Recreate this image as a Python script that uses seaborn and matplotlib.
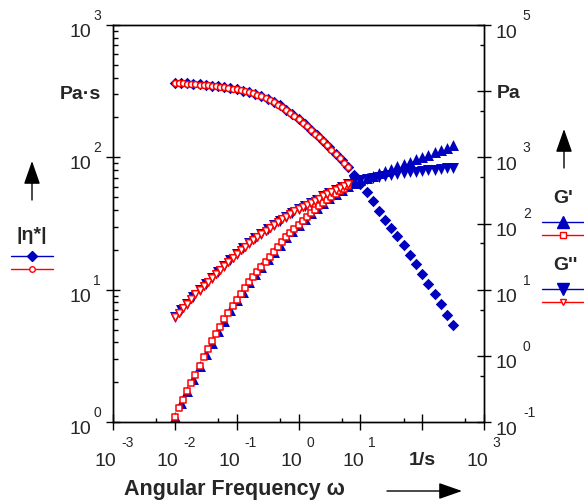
import matplotlib
matplotlib.use("Agg")
import matplotlib.pyplot as plt
import numpy as np
import seaborn as sns
from matplotlib.lines import Line2D
from matplotlib.patches import FancyArrowPatch
from matplotlib.ticker import LogLocator, NullFormatter

W, H = 584, 504
BLUE = "#0000C0"
RED = "#FF0000"

# angular frequency, log10 of 1/s
omega_blue_exp = [-2.0, -1.9, -1.8, -1.7, -1.6, -1.5, -1.4, -1.3, -1.2, -1.1,
                  -1.0, -0.9, -0.8, -0.7, -0.6, -0.5, -0.4, -0.3, -0.2, -0.1,
                  0.0, 0.1, 0.2, 0.3, 0.4, 0.5, 0.6, 0.7, 0.8, 0.9,
                  1.0, 1.1, 1.2, 1.3, 1.4, 1.5, 1.6, 1.7, 1.8, 1.9,
                  2.0, 2.1, 2.2, 2.3, 2.4, 2.5]
omega_red_exp = [-2.0, -1.933, -1.867, -1.8, -1.733, -1.667, -1.6, -1.533,
                 -1.467, -1.4, -1.333, -1.267, -1.2, -1.133, -1.067, -1.0,
                 -0.933, -0.867, -0.8, -0.733, -0.667, -0.6, -0.533, -0.467,
                 -0.4, -0.333, -0.267, -0.2, -0.133, -0.067, 0.0, 0.067,
                 0.133, 0.2, 0.267, 0.333, 0.4, 0.467, 0.533, 0.6, 0.667,
                 0.733, 0.8]

# |eta*| in Pa.s, log10 (left axis)
eta_blue_exp = [2.565, 2.562, 2.559, 2.556, 2.551, 2.545, 2.541, 2.536, 2.530,
                2.523, 2.515, 2.505, 2.494, 2.481, 2.465, 2.443, 2.419, 2.392,
                2.361, 2.326, 2.288, 2.249, 2.207, 2.165, 2.121, 2.075, 2.028,
                1.978, 1.925, 1.865, 1.800, 1.737, 1.668, 1.598, 1.530, 1.468,
                1.405, 1.335, 1.265, 1.192, 1.118, 1.042, 0.967, 0.890, 0.812,
                0.731]
eta_red_exp = [2.564, 2.562, 2.559, 2.557, 2.554, 2.552, 2.549, 2.547, 2.544,
               2.540, 2.537, 2.534, 2.529, 2.525, 2.520, 2.515, 2.507, 2.500,
               2.492, 2.484, 2.472, 2.460, 2.447, 2.434, 2.417, 2.398, 2.380,
               2.361, 2.337, 2.312, 2.288, 2.263, 2.235, 2.207, 2.180, 2.151,
               2.121, 2.090, 2.059, 2.027, 1.994, 1.959, 1.925]

# G' and G'' in Pa, log10 (right axis)
gp_blue_exp = [-0.92, -0.72, -0.53, -0.35, -0.16, 0.03, 0.20, 0.37, 0.53, 0.69,
               0.84, 0.97, 1.11, 1.23, 1.35, 1.46, 1.57, 1.68, 1.79, 1.89,
               1.98, 2.07, 2.155, 2.24, 2.31, 2.38, 2.445, 2.505, 2.565, 2.615,
               2.655, 2.69, 2.725, 2.76, 2.795, 2.83, 2.865, 2.90, 2.935, 2.97,
               3.005, 3.04, 3.075, 3.11, 3.145, 3.18]
gpp_blue_exp = [0.59, 0.69, 0.79, 0.895, 0.99, 1.085, 1.175, 1.27, 1.36, 1.45,
                1.54, 1.625, 1.70, 1.775, 1.845, 1.915, 1.98, 2.045, 2.105, 2.165,
                2.22, 2.265, 2.31, 2.36, 2.41, 2.455, 2.50, 2.545, 2.59, 2.635,
                2.655, 2.67, 2.685, 2.70, 2.715, 2.73, 2.745, 2.76, 2.775, 2.785,
                2.795, 2.805, 2.815, 2.825, 2.835, 2.84]
gp_red_exp = [-0.92, -0.79, -0.66, -0.53, -0.41, -0.29, -0.16, -0.02, 0.11,
              0.22, 0.33, 0.44, 0.55, 0.65, 0.75, 0.84, 0.93, 1.02, 1.11, 1.19,
              1.27, 1.35, 1.42, 1.50, 1.57, 1.64, 1.72, 1.79, 1.86, 1.92, 1.98,
              2.04, 2.10, 2.155, 2.21, 2.265, 2.31, 2.357, 2.40, 2.445, 2.485,
              2.525, 2.565]
gpp_red_exp = [0.58, 0.65, 0.72, 0.79, 0.86, 0.93, 0.99, 1.05, 1.115, 1.175,
               1.24, 1.30, 1.36, 1.42, 1.48, 1.54, 1.595, 1.65, 1.70, 1.75,
               1.80, 1.845, 1.89, 1.937, 1.98, 2.025, 2.065, 2.105, 2.145, 2.185,
               2.22, 2.25, 2.28, 2.31, 2.343, 2.377, 2.41, 2.44, 2.47, 2.50,
               2.53, 2.56, 2.59]

x_exps = [-3, -2, -1, 0, 1, 2, 3]
left_exps = [0, 1, 2, 3]
right_exps = [-1, 0, 1, 2, 3, 4, 5]


def fig_xy(px, py):
    return px / W, 1 - py / H


def main():
    sns.set_style("ticks", {"axes.edgecolor": "black",
                            "xtick.color": "black", "ytick.color": "black"})
    plt.rcParams["font.family"] = ["Liberation Sans", "DejaVu Sans"]

    om_b = 10.0 ** np.array(omega_blue_exp)
    om_r = 10.0 ** np.array(omega_red_exp)

    fig = plt.figure(figsize=(W / 100, H / 100), dpi=100)
    ax = fig.add_axes([113 / W, 82 / H, 371 / W, 397 / H])
    ax2 = ax.twinx()

    # |eta*|
    sns.scatterplot(x=om_b, y=10.0 ** np.array(eta_blue_exp), ax=ax,
                    marker="D", s=34, color=BLUE, linewidth=0)
    sns.scatterplot(x=om_r, y=10.0 ** np.array(eta_red_exp), ax=ax,
                    marker="o", s=18, color="white", edgecolor=RED, linewidth=1.1)

    # G', G''
    sns.scatterplot(x=om_b, y=10.0 ** np.array(gp_blue_exp), ax=ax2,
                    marker="^", s=62, color=BLUE, linewidth=0)
    sns.scatterplot(x=om_b, y=10.0 ** np.array(gpp_blue_exp), ax=ax2,
                    marker="v", s=62, color=BLUE, linewidth=0)
    sns.scatterplot(x=om_r, y=10.0 ** np.array(gp_red_exp), ax=ax2,
                    marker="s", s=24, color="white", edgecolor=RED, linewidth=1.1)
    sns.scatterplot(x=om_r, y=10.0 ** np.array(gpp_red_exp), ax=ax2,
                    marker="v", s=30, color="white", edgecolor=RED, linewidth=1.1)

    ax.set_xscale("log")
    ax.set_yscale("log")
    ax2.set_yscale("log")
    ax.set_xlim(1e-3, 1e3)
    ax.set_ylim(1, 1e3)
    ax2.set_ylim(1e-1, 1e5)

    ax.xaxis.set_major_locator(LogLocator(base=10, numticks=12))
    ax.xaxis.set_minor_locator(LogLocator(base=10, subs=[5], numticks=12))
    ax.yaxis.set_major_locator(LogLocator(base=10, numticks=12))
    ax.yaxis.set_minor_locator(LogLocator(base=10, subs=np.arange(2, 10), numticks=12))
    ax2.yaxis.set_major_locator(LogLocator(base=10, numticks=12))
    ax2.yaxis.set_minor_locator(LogLocator(base=10, subs=[5], numticks=12))
    for a in (ax, ax2):
        a.xaxis.set_minor_formatter(NullFormatter())
        a.yaxis.set_minor_formatter(NullFormatter())
        for sp in a.spines.values():
            sp.set_linewidth(1.0)
            sp.set_visible(True)
        a.set_ylabel("")

    ax.tick_params(axis="x", which="major", direction="inout", length=12, width=1,
                   top=False, labelbottom=False)
    ax.tick_params(axis="x", which="minor", direction="in", length=3, width=1, top=False)
    ax.tick_params(axis="y", which="major", direction="inout", length=10, width=1,
                   right=False, labelleft=False)
    ax.tick_params(axis="y", which="minor", direction="in", length=3.5, width=1, right=False)
    ax2.tick_params(axis="y", which="major", direction="inout", length=10, width=1,
                    left=False, labelright=False)
    ax2.tick_params(axis="y", which="minor", direction="in", length=3, width=1, left=False)

    # power-of-ten tick labels
    xt = ax.get_xaxis_transform()
    for e in x_exps:
        v = 10.0 ** e
        if e == 2:
            ax.annotate("1/s", xy=(v, 0), xycoords=xt, xytext=(0, -27.9),
                        textcoords="offset points", ha="center", va="center",
                        fontsize=14, fontweight="bold")
            continue
        ax.annotate("10", xy=(v, 0), xycoords=xt, xytext=(2.7, -28.8),
                    textcoords="offset points", ha="right", va="center", fontsize=14)
        ax.annotate(str(e), xy=(v, 0), xycoords=xt, xytext=(5.8, -15.1),
                    textcoords="offset points", ha="left", va="center", fontsize=10)

    yt = ax.get_yaxis_transform()
    for e in left_exps:
        v = 10.0 ** e
        ax.annotate("10", xy=(0, v), xycoords=yt, xytext=(-15.8, -5.3),
                    textcoords="offset points", ha="right", va="center", fontsize=14)
        ax.annotate(str(e), xy=(0, v), xycoords=yt, xytext=(-11.3, 6.5),
                    textcoords="offset points", ha="center", va="center", fontsize=10)
    ax.annotate("Pa·s", xy=(0, 300), xycoords=yt, xytext=(-8.6, 0),
                textcoords="offset points", ha="right", va="center",
                fontsize=14, fontweight="bold")

    yt2 = ax2.get_yaxis_transform()
    for e in right_exps:
        v = 10.0 ** e
        if e == 4:
            ax2.annotate("Pa", xy=(1, v), xycoords=yt2, xytext=(9.4, -1.7),
                         textcoords="offset points", ha="left", va="center",
                         fontsize=14, fontweight="bold")
            continue
        ax2.annotate("10", xy=(1, v), xycoords=yt2, xytext=(8.6, -5.8),
                     textcoords="offset points", ha="left", va="center", fontsize=14)
        ax2.annotate(str(e), xy=(1, v), xycoords=yt2, xytext=(28, 6.5),
                     textcoords="offset points", ha="left", va="center", fontsize=10)

    ax.set_xlabel("Angular Frequency ω", fontsize=15.5, fontweight="bold")
    ax.xaxis.set_label_coords((234 - 113) / 371, (422 - 490) / 397)
    ax.xaxis.label.set_va("center")

    # arrows next to the axis titles
    arrow_kw = dict(arrowstyle="-|>,head_length=0.8,head_width=0.28",
                    mutation_scale=18, lw=1, color="black",
                    shrinkA=0, shrinkB=0, transform=fig.transFigure)
    fig.add_artist(FancyArrowPatch(fig_xy(32, 200), fig_xy(32, 161), **arrow_kw))
    fig.add_artist(FancyArrowPatch(fig_xy(564, 168), fig_xy(564, 129), **arrow_kw))
    fig.add_artist(FancyArrowPatch(fig_xy(387, 491), fig_xy(462, 491), **arrow_kw))

    # legend titles
    title_kw = dict(ha="center", va="center", fontsize=14, fontweight="bold")
    fig.text(*fig_xy(32, 235), "|η*|", **title_kw)
    fig.text(*fig_xy(563, 199), "G'", **title_kw)
    fig.text(*fig_xy(565, 266), "G''", **title_kw)

    def keys(handles, cx, cy):
        leg = fig.legend(handles=handles, labels=[""] * len(handles), loc="center",
                         bbox_to_anchor=fig_xy(cx, cy), frameon=False,
                         handlelength=4.4, handletextpad=0, borderpad=0,
                         borderaxespad=0, labelspacing=0.3, prop={"size": 7})
        return leg

    keys([Line2D([], [], color=BLUE, lw=1, marker="D", markersize=5.5, mfc=BLUE, mec=BLUE),
          Line2D([], [], color=RED, lw=1, marker="o", markersize=4, mfc="white",
                 mec=RED, mew=1)], 32, 263)
    keys([Line2D([], [], color=BLUE, lw=1, marker="^", markersize=8.5, mfc=BLUE, mec=BLUE),
          Line2D([], [], color=RED, lw=1, marker="s", markersize=4.5, mfc="white",
                 mec=RED, mew=1)], 563, 228.5)
    keys([Line2D([], [], color=BLUE, lw=1, marker="v", markersize=8.5, mfc=BLUE, mec=BLUE),
          Line2D([], [], color=RED, lw=1, marker="v", markersize=4.5, mfc="white",
                 mec=RED, mew=1)], 563, 295.5)

    fig.savefig("out.png", dpi=100)


if __name__ == "__main__":
    main()
